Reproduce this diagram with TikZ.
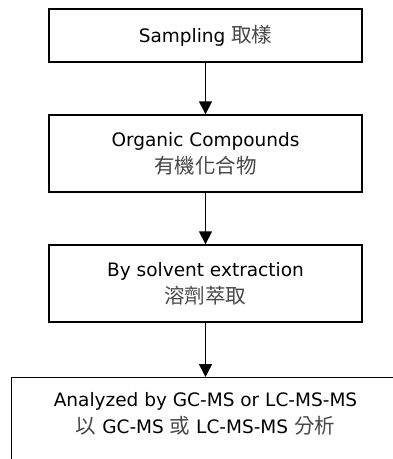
\documentclass[tikz,border=0pt]{standalone}
\usepackage{fontspec}
\setmainfont{DejaVu Sans}
\newfontfamily\cjk{Noto Sans CJK TC}
\usetikzlibrary{arrows.meta}
\newcommand\zh[1]{{\cjk\fontsize{20.5}{27}\selectfont\color{black!72}#1}}
\begin{document}
\begin{tikzpicture}[x=1pt,y=-1pt,
  txt/.style={align=center, inner sep=0pt, font=\fontsize{18.5}{27}\selectfont},
  box/.style={txt, draw, line width=1.4pt, minimum width=313pt},
  arr/.style={-{Triangle[width=13pt,length=13pt]}, line width=1.4pt}]
\useasboundingbox (0,0) rectangle (393,459);
\clip (0,0) rectangle (393,459);
\node[box, minimum height=53pt] (b1) at (205.5,35.5) {Sampling \zh{取樣}};
\node[box, minimum height=77pt] (b2) at (205.5,153.5) {Organic Compounds\\\zh{有機化合物}};
\node[box, minimum height=77pt] (b3) at (205.5,283.5) {By solvent extraction\\\zh{溶劑萃取}};
\node[box, minimum width=388pt, minimum height=100pt, anchor=north] (b4) at (205.5,377) {};
\node[txt] (t4) at (205.5,414) {Analyzed by GC-MS or LC-MS-MS\\\zh{以} GC-MS \zh{或} LC-MS-MS \zh{分析}};
\draw[arr] (b1) -- (b2);
\draw[arr] (b2) -- (b3);
\draw[arr] (b3) -- (b4);
\end{tikzpicture}
\end{document}
